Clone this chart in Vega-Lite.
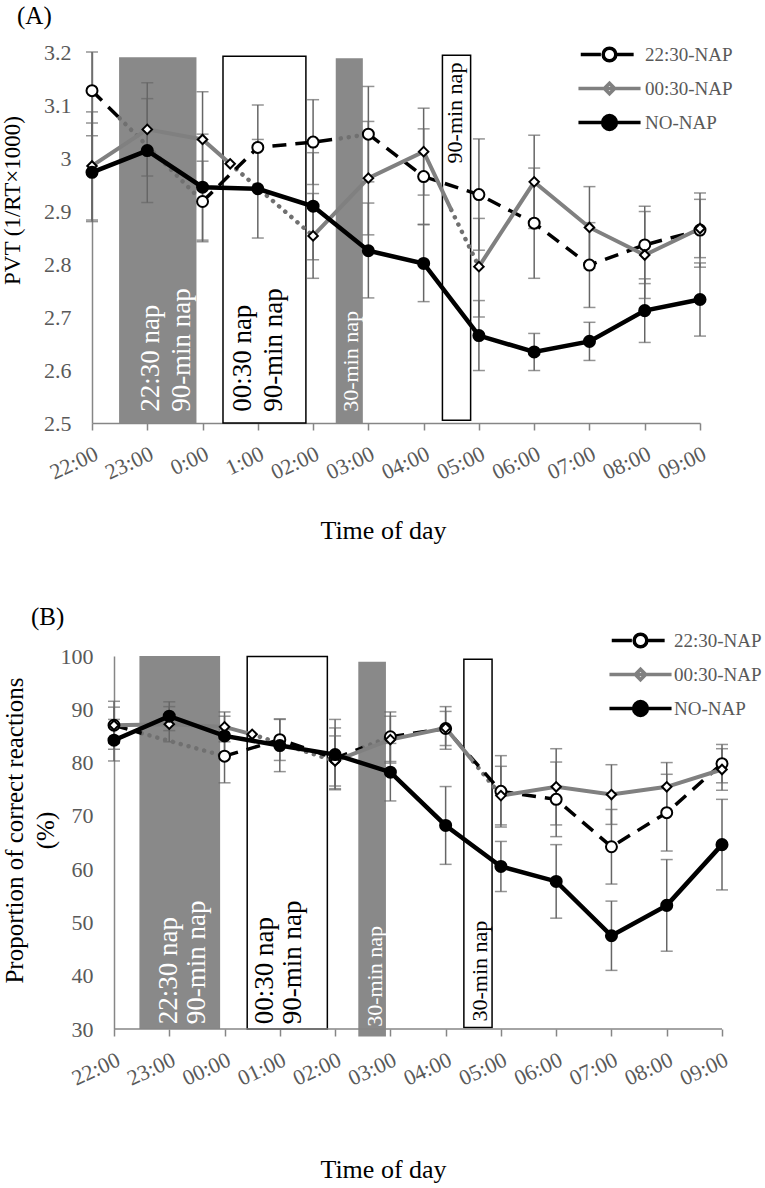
{
  "$schema": "https://vega.github.io/schema/vega-lite/v6.json",
  "background": "white",
  "padding": {"left": 1, "top": 4, "right": 5, "bottom": 5},
  "config": {"view": {"stroke": null}, "font": "Liberation Serif"},
  "spacing": 62,
  "resolve": {"scale": {"shape": "independent", "fill": "independent", "stroke": "independent"}},
  "datasets": {
    "ptsA": [
      {"s": "22:30-NAP", "h": 0, "v": 3.127, "lo": 3.042, "hi": 3.2},
      {"s": "22:30-NAP", "h": 2, "v": 2.918, "lo": 2.842, "hi": 2.994},
      {"s": "22:30-NAP", "h": 3, "v": 3.020, "lo": 2.940, "hi": 3.100},
      {"s": "22:30-NAP", "h": 4, "v": 3.030, "lo": 2.950, "hi": 3.110},
      {"s": "22:30-NAP", "h": 5, "v": 3.045, "lo": 2.955, "hi": 3.135},
      {"s": "22:30-NAP", "h": 6, "v": 2.965, "lo": 2.875, "hi": 3.055},
      {"s": "22:30-NAP", "h": 7, "v": 2.931, "lo": 2.826, "hi": 3.036},
      {"s": "22:30-NAP", "h": 8, "v": 2.877, "lo": 2.773, "hi": 2.981},
      {"s": "22:30-NAP", "h": 9, "v": 2.798, "lo": 2.718, "hi": 2.878},
      {"s": "22:30-NAP", "h": 10, "v": 2.836, "lo": 2.763, "hi": 2.909},
      {"s": "22:30-NAP", "h": 11, "v": 2.864, "lo": 2.794, "hi": 2.934},
      {"s": "00:30-NAP", "h": 0, "v": 2.985, "lo": 2.883, "hi": 3.087},
      {"s": "00:30-NAP", "h": 1, "v": 3.054, "lo": 2.966, "hi": 3.142},
      {"s": "00:30-NAP", "h": 2, "v": 3.035, "lo": 2.945, "hi": 3.125},
      {"s": "00:30-NAP", "h": 2.5, "v": 2.989, "lo": null, "hi": null},
      {"s": "00:30-NAP", "h": 4, "v": 2.853, "lo": 2.773, "hi": 2.933},
      {"s": "00:30-NAP", "h": 5, "v": 2.962, "lo": 2.855, "hi": 3.069},
      {"s": "00:30-NAP", "h": 6, "v": 3.012, "lo": 2.930, "hi": 3.094},
      {"s": "00:30-NAP", "h": 7, "v": 2.795, "lo": 2.700, "hi": 2.886},
      {"s": "00:30-NAP", "h": 8, "v": 2.955, "lo": 2.867, "hi": 3.043},
      {"s": "00:30-NAP", "h": 9, "v": 2.869, "lo": 2.792, "hi": 2.946},
      {"s": "00:30-NAP", "h": 10, "v": 2.817, "lo": 2.735, "hi": 2.899},
      {"s": "00:30-NAP", "h": 11, "v": 2.867, "lo": 2.812, "hi": 2.922},
      {"s": "NO-NAP", "h": 0, "v": 2.973, "lo": 2.880, "hi": 3.066},
      {"s": "NO-NAP", "h": 1, "v": 3.014, "lo": 2.916, "hi": 3.112},
      {"s": "NO-NAP", "h": 2, "v": 2.945, "lo": 2.845, "hi": 3.045},
      {"s": "NO-NAP", "h": 3, "v": 2.942, "lo": 2.849, "hi": 3.035},
      {"s": "NO-NAP", "h": 4, "v": 2.909, "lo": 2.808, "hi": 3.010},
      {"s": "NO-NAP", "h": 5, "v": 2.825, "lo": 2.736, "hi": 2.915},
      {"s": "NO-NAP", "h": 6, "v": 2.801, "lo": 2.729, "hi": 2.874},
      {"s": "NO-NAP", "h": 7, "v": 2.665, "lo": 2.599, "hi": 2.731},
      {"s": "NO-NAP", "h": 8, "v": 2.634, "lo": 2.599, "hi": 2.669},
      {"s": "NO-NAP", "h": 9, "v": 2.654, "lo": 2.618, "hi": 2.690},
      {"s": "NO-NAP", "h": 10, "v": 2.712, "lo": 2.652, "hi": 2.772},
      {"s": "NO-NAP", "h": 11, "v": 2.733, "lo": 2.664, "hi": 2.802}
    ],
    "linesA": [
      {"s": "22:30-NAP", "g": "a", "phase": "awake", "h": 0, "v": 3.127},
      {"s": "22:30-NAP", "g": "a", "phase": "awake", "h": 0.5, "v": 3.075},
      {"s": "22:30-NAP", "g": "b", "phase": "nap", "h": 0.5, "v": 3.075},
      {"s": "22:30-NAP", "g": "b", "phase": "nap", "h": 2, "v": 2.918},
      {"s": "22:30-NAP", "g": "c", "phase": "awake", "h": 2, "v": 2.918},
      {"s": "22:30-NAP", "g": "c", "phase": "awake", "h": 3, "v": 3.020},
      {"s": "22:30-NAP", "g": "c", "phase": "awake", "h": 4, "v": 3.030},
      {"s": "22:30-NAP", "g": "c", "phase": "awake", "h": 4.5, "v": 3.037},
      {"s": "22:30-NAP", "g": "d", "phase": "nap", "h": 4.5, "v": 3.037},
      {"s": "22:30-NAP", "g": "d", "phase": "nap", "h": 5, "v": 3.045},
      {"s": "22:30-NAP", "g": "e", "phase": "awake", "h": 5, "v": 3.045},
      {"s": "22:30-NAP", "g": "e", "phase": "awake", "h": 6, "v": 2.965},
      {"s": "22:30-NAP", "g": "e", "phase": "awake", "h": 7, "v": 2.931},
      {"s": "22:30-NAP", "g": "e", "phase": "awake", "h": 8, "v": 2.877},
      {"s": "22:30-NAP", "g": "e", "phase": "awake", "h": 9, "v": 2.798},
      {"s": "22:30-NAP", "g": "e", "phase": "awake", "h": 10, "v": 2.836},
      {"s": "22:30-NAP", "g": "e", "phase": "awake", "h": 11, "v": 2.864},
      {"s": "00:30-NAP", "g": "f", "phase": "awake", "h": 0, "v": 2.985},
      {"s": "00:30-NAP", "g": "f", "phase": "awake", "h": 1, "v": 3.054},
      {"s": "00:30-NAP", "g": "f", "phase": "awake", "h": 2, "v": 3.035},
      {"s": "00:30-NAP", "g": "f", "phase": "awake", "h": 2.5, "v": 2.989},
      {"s": "00:30-NAP", "g": "g", "phase": "nap", "h": 2.5, "v": 2.989},
      {"s": "00:30-NAP", "g": "g", "phase": "nap", "h": 4, "v": 2.853},
      {"s": "00:30-NAP", "g": "h", "phase": "awake", "h": 4, "v": 2.853},
      {"s": "00:30-NAP", "g": "h", "phase": "awake", "h": 5, "v": 2.962},
      {"s": "00:30-NAP", "g": "h", "phase": "awake", "h": 6, "v": 3.012},
      {"s": "00:30-NAP", "g": "h", "phase": "awake", "h": 6.5, "v": 2.902},
      {"s": "00:30-NAP", "g": "i", "phase": "nap", "h": 6.5, "v": 2.902},
      {"s": "00:30-NAP", "g": "i", "phase": "nap", "h": 7, "v": 2.795},
      {"s": "00:30-NAP", "g": "j", "phase": "awake", "h": 7, "v": 2.795},
      {"s": "00:30-NAP", "g": "j", "phase": "awake", "h": 8, "v": 2.955},
      {"s": "00:30-NAP", "g": "j", "phase": "awake", "h": 9, "v": 2.869},
      {"s": "00:30-NAP", "g": "j", "phase": "awake", "h": 10, "v": 2.817},
      {"s": "00:30-NAP", "g": "j", "phase": "awake", "h": 11, "v": 2.867}
    ],
    "bandsA": [
      {"k": "gray", "h0": 0.49, "h1": 1.89, "lo": 2.5, "hi": 3.19},
      {"k": "white", "h0": 2.37, "h1": 3.87, "lo": 2.5, "hi": 3.192},
      {"k": "gray", "h0": 4.41, "h1": 4.9, "lo": 2.5, "hi": 3.188},
      {"k": "white", "h0": 6.34, "h1": 6.85, "lo": 2.505, "hi": 3.194}
    ],
    "labsA": [
      {"k": "bigW", "h": 1.07, "v": 2.521, "t": "22:30 nap"},
      {"k": "bigW", "h": 1.63, "v": 2.521, "t": "90-min nap"},
      {"k": "bigB", "h": 2.73, "v": 2.521, "t": "00:30 nap"},
      {"k": "bigB", "h": 3.29, "v": 2.521, "t": "90-min nap"},
      {"k": "smW", "h": 4.68, "v": 2.521, "t": "30-min nap"},
      {"k": "smBtop", "h": 6.57, "v": 3.18, "t": "90-min nap"}
    ],
    "ptsB": [
      {"s": "22:30-NAP", "h": 0, "v": 87.0, "lo": 82.5, "hi": 91.5},
      {"s": "22:30-NAP", "h": 2, "v": 81.2, "lo": 76.2, "hi": 86.2},
      {"s": "22:30-NAP", "h": 3, "v": 84.3, "lo": 80.4, "hi": 88.2},
      {"s": "22:30-NAP", "h": 4, "v": 80.8, "lo": 75.1, "hi": 86.5},
      {"s": "22:30-NAP", "h": 5, "v": 84.85, "lo": 80.2, "hi": 89.5},
      {"s": "22:30-NAP", "h": 6, "v": 86.4, "lo": 83.2, "hi": 89.6},
      {"s": "22:30-NAP", "h": 7, "v": 74.6, "lo": 67.9, "hi": 81.3},
      {"s": "22:30-NAP", "h": 8, "v": 73.1, "lo": 66.1, "hi": 80.1},
      {"s": "22:30-NAP", "h": 9, "v": 64.2, "lo": 57.2, "hi": 71.2},
      {"s": "22:30-NAP", "h": 10, "v": 70.6, "lo": 63.4, "hi": 77.8},
      {"s": "22:30-NAP", "h": 11, "v": 79.8, "lo": 76.2, "hi": 83.4},
      {"s": "00:30-NAP", "h": 0, "v": 87.0, "lo": 83.6, "hi": 90.4},
      {"s": "00:30-NAP", "h": 1, "v": 87.2, "lo": 83.9, "hi": 90.5},
      {"s": "00:30-NAP", "h": 2, "v": 86.7, "lo": 83.9, "hi": 89.5},
      {"s": "00:30-NAP", "h": 2.5, "v": 85.3, "lo": null, "hi": null},
      {"s": "00:30-NAP", "h": 4, "v": 80.3, "lo": 75.6, "hi": 85.0},
      {"s": "00:30-NAP", "h": 5, "v": 84.3, "lo": 79.9, "hi": 88.7},
      {"s": "00:30-NAP", "h": 6, "v": 86.5, "lo": 82.5, "hi": 90.5},
      {"s": "00:30-NAP", "h": 7, "v": 73.8, "lo": 68.3, "hi": 79.3},
      {"s": "00:30-NAP", "h": 8, "v": 75.45, "lo": 68.3, "hi": 82.6},
      {"s": "00:30-NAP", "h": 9, "v": 74.0, "lo": 68.4, "hi": 79.6},
      {"s": "00:30-NAP", "h": 10, "v": 75.45, "lo": 70.9, "hi": 80.0},
      {"s": "00:30-NAP", "h": 11, "v": 78.7, "lo": 74.8, "hi": 82.6},
      {"s": "NO-NAP", "h": 0, "v": 84.2, "lo": 80.3, "hi": 88.1},
      {"s": "NO-NAP", "h": 1, "v": 88.7, "lo": 86.0, "hi": 91.4},
      {"s": "NO-NAP", "h": 2, "v": 85.0, "lo": 81.3, "hi": 88.7},
      {"s": "NO-NAP", "h": 3, "v": 83.2, "lo": 78.3, "hi": 88.1},
      {"s": "NO-NAP", "h": 4, "v": 81.5, "lo": 74.9, "hi": 88.1},
      {"s": "NO-NAP", "h": 5, "v": 78.2, "lo": 72.8, "hi": 83.6},
      {"s": "NO-NAP", "h": 6, "v": 68.2, "lo": 60.9, "hi": 75.5},
      {"s": "NO-NAP", "h": 7, "v": 60.5, "lo": 55.8, "hi": 65.2},
      {"s": "NO-NAP", "h": 8, "v": 57.7, "lo": 50.8, "hi": 64.6},
      {"s": "NO-NAP", "h": 9, "v": 47.5, "lo": 41.0, "hi": 54.0},
      {"s": "NO-NAP", "h": 10, "v": 53.2, "lo": 44.6, "hi": 61.8},
      {"s": "NO-NAP", "h": 11, "v": 64.6, "lo": 56.1, "hi": 73.1}
    ],
    "linesB": [
      {"s": "22:30-NAP", "g": "a", "phase": "awake", "h": 0, "v": 87.0},
      {"s": "22:30-NAP", "g": "a", "phase": "awake", "h": 0.5, "v": 85.5},
      {"s": "22:30-NAP", "g": "b", "phase": "nap", "h": 0.5, "v": 85.5},
      {"s": "22:30-NAP", "g": "b", "phase": "nap", "h": 2, "v": 81.2},
      {"s": "22:30-NAP", "g": "c", "phase": "awake", "h": 2, "v": 81.2},
      {"s": "22:30-NAP", "g": "c", "phase": "awake", "h": 3, "v": 84.3},
      {"s": "22:30-NAP", "g": "c", "phase": "awake", "h": 4, "v": 80.8},
      {"s": "22:30-NAP", "g": "c", "phase": "awake", "h": 4.5, "v": 82.8},
      {"s": "22:30-NAP", "g": "d", "phase": "nap", "h": 4.5, "v": 82.8},
      {"s": "22:30-NAP", "g": "d", "phase": "nap", "h": 5, "v": 84.85},
      {"s": "22:30-NAP", "g": "e", "phase": "awake", "h": 5, "v": 84.85},
      {"s": "22:30-NAP", "g": "e", "phase": "awake", "h": 6, "v": 86.4},
      {"s": "22:30-NAP", "g": "e", "phase": "awake", "h": 7, "v": 74.6},
      {"s": "22:30-NAP", "g": "e", "phase": "awake", "h": 8, "v": 73.1},
      {"s": "22:30-NAP", "g": "e", "phase": "awake", "h": 9, "v": 64.2},
      {"s": "22:30-NAP", "g": "e", "phase": "awake", "h": 10, "v": 70.6},
      {"s": "22:30-NAP", "g": "e", "phase": "awake", "h": 11, "v": 79.8},
      {"s": "00:30-NAP", "g": "f", "phase": "awake", "h": 0, "v": 87.0},
      {"s": "00:30-NAP", "g": "f", "phase": "awake", "h": 1, "v": 87.2},
      {"s": "00:30-NAP", "g": "f", "phase": "awake", "h": 2, "v": 86.7},
      {"s": "00:30-NAP", "g": "f", "phase": "awake", "h": 2.5, "v": 85.3},
      {"s": "00:30-NAP", "g": "g", "phase": "nap", "h": 2.5, "v": 85.3},
      {"s": "00:30-NAP", "g": "g", "phase": "nap", "h": 4, "v": 80.3},
      {"s": "00:30-NAP", "g": "h", "phase": "awake", "h": 4, "v": 80.3},
      {"s": "00:30-NAP", "g": "h", "phase": "awake", "h": 5, "v": 84.3},
      {"s": "00:30-NAP", "g": "h", "phase": "awake", "h": 6, "v": 86.5},
      {"s": "00:30-NAP", "g": "h", "phase": "awake", "h": 6.5, "v": 80.2},
      {"s": "00:30-NAP", "g": "i", "phase": "nap", "h": 6.5, "v": 80.2},
      {"s": "00:30-NAP", "g": "i", "phase": "nap", "h": 7, "v": 73.8},
      {"s": "00:30-NAP", "g": "j", "phase": "awake", "h": 7, "v": 73.8},
      {"s": "00:30-NAP", "g": "j", "phase": "awake", "h": 8, "v": 75.45},
      {"s": "00:30-NAP", "g": "j", "phase": "awake", "h": 9, "v": 74.0},
      {"s": "00:30-NAP", "g": "j", "phase": "awake", "h": 10, "v": 75.45},
      {"s": "00:30-NAP", "g": "j", "phase": "awake", "h": 11, "v": 78.7}
    ],
    "bandsB": [
      {"k": "gray", "h0": 0.46, "h1": 1.92, "lo": 30, "hi": 100},
      {"k": "white", "h0": 2.41, "h1": 3.86, "lo": 30, "hi": 99.9},
      {"k": "gray", "h0": 4.42, "h1": 4.92, "lo": 28.6, "hi": 98.9},
      {"k": "white", "h0": 6.33, "h1": 6.84, "lo": 30.3, "hi": 99.4}
    ],
    "labsB": [
      {"k": "bigW", "h": 0.995, "v": 30.9, "t": "22:30 nap"},
      {"k": "bigW", "h": 1.5, "v": 30.9, "t": "90-min nap"},
      {"k": "bigB", "h": 2.73, "v": 30.9, "t": "00:30 nap"},
      {"k": "bigB", "h": 3.24, "v": 30.9, "t": "90-min nap"},
      {"k": "smW", "h": 4.72, "v": 30.4, "t": "30-min nap"},
      {"k": "smB", "h": 6.62, "v": 31.4, "t": "30-min nap"}
    ],
    "axisB": [
      {"h0": 0, "h1": 11, "v": 30}
    ]
  },
  "vconcat": [
    {
      "width": 608,
      "height": 371,
      "title": {"text": "(A)", "anchor": "start", "frame": "bounds", "fontSize": 25, "fontWeight": "normal", "font": "Liberation Serif", "color": "black", "offset": 12, "dx": 16},
      "encoding": {
        "x": {"field": "h", "type": "quantitative", "scale": {"domain": [0, 11], "nice": false, "zero": false},
          "axis": {"values": [0, 1, 2, 3, 4, 5, 6, 7, 8, 9, 10, 11], "labelExpr": "['22:00','23:00','0:00','1:00','02:00','03:00','04:00','05:00','06:00','07:00','08:00','09:00'][datum.value]", "labelAngle": -25, "labelAlign": "right", "labelBaseline": "top", "labelFont": "Liberation Serif", "labelFontSize": 22, "labelColor": "#595959", "labelPadding": 13, "labelFlush": false, "labelOverlap": false, "labelBound": false, "tickColor": "#868686", "tickSize": 7, "tickWidth": 1.5, "domainColor": "#868686", "domainWidth": 1.5, "grid": false, "title": "Time of day", "titleFont": "Liberation Serif", "titleFontSize": 26, "titleFontWeight": "normal", "titleColor": "black", "titleX": 291, "titleY": 107, "titleBaseline": "middle", "titleAlign": "center"}},
        "y": {"field": "v", "type": "quantitative", "scale": {"domain": [2.5, 3.2], "nice": false, "zero": false},
          "axis": {"values": [2.5, 2.6, 2.7, 2.8, 2.9, 3, 3.1, 3.2], "format": "~g", "labelFont": "Liberation Serif", "labelFontSize": 22, "labelColor": "#595959", "labelPadding": 21, "ticks": false, "tickSize": 0, "domainColor": "#868686", "domainWidth": 1.5, "grid": false, "title": "PVT (1/RT×1000)", "titleFont": "Liberation Serif", "titleFontSize": 23, "titleFontWeight": "normal", "titleColor": "black", "titleX": -80, "titleY": 148, "titleBaseline": "middle", "titleAlign": "center"}}
      },
      "layer": [
        {
          "data": {"name": "bandsA"},
          "transform": [{"filter": "datum.k == 'gray'"}],
          "mark": {"type": "rect", "fill": "#898989"},
          "encoding": {
            "x": {"field": "h0", "type": "quantitative", "title": "Time of day"},
            "x2": {"field": "h1"},
            "y": {"field": "lo", "type": "quantitative", "title": "PVT (1/RT×1000)"},
            "y2": {"field": "hi"}
          }
        },
        {
          "data": {"name": "bandsA"},
          "transform": [{"filter": "datum.k == 'white'"}],
          "mark": {"type": "rect", "fill": "white", "stroke": "black", "strokeWidth": 1.5},
          "encoding": {
            "x": {"field": "h0", "type": "quantitative", "title": "Time of day"},
            "x2": {"field": "h1"},
            "y": {"field": "lo", "type": "quantitative", "title": "PVT (1/RT×1000)"},
            "y2": {"field": "hi"}
          }
        },
        {
          "data": {"name": "labsA"},
          "transform": [{"filter": "datum.k == 'bigW'"}],
          "mark": {"type": "text", "angle": 270, "align": "left", "baseline": "middle", "font": "Liberation Serif", "fontSize": 27, "color": "white"},
          "encoding": {"text": {"field": "t"}}
        },
        {
          "data": {"name": "labsA"},
          "transform": [{"filter": "datum.k == 'bigB'"}],
          "mark": {"type": "text", "angle": 270, "align": "left", "baseline": "middle", "font": "Liberation Serif", "fontSize": 27, "color": "black"},
          "encoding": {"text": {"field": "t"}}
        },
        {
          "data": {"name": "labsA"},
          "transform": [{"filter": "datum.k == 'smW'"}],
          "mark": {"type": "text", "angle": 270, "align": "left", "baseline": "middle", "font": "Liberation Serif", "fontSize": 22, "color": "white"},
          "encoding": {"text": {"field": "t"}}
        },
        {
          "data": {"name": "labsA"},
          "transform": [{"filter": "datum.k == 'smBtop'"}],
          "mark": {"type": "text", "angle": 270, "align": "right", "baseline": "middle", "font": "Liberation Serif", "fontSize": 22, "color": "black"},
          "encoding": {"text": {"field": "t"}}
        },
        {
          "data": {"name": "ptsA"},
          "transform": [{"filter": "isValid(datum.lo)"}],
          "mark": {"type": "errorbar", "color": "#666666", "thickness": 1.5, "ticks": {"size": 12, "thickness": 1.5, "color": "#666666"}},
          "encoding": {
            "y": {"field": "lo", "type": "quantitative", "title": "PVT (1/RT×1000)"},
            "y2": {"field": "hi"}
          }
        },
        {
          "data": {"name": "linesA"},
          "transform": [{"filter": "datum.phase == 'nap'"}],
          "mark": {"type": "line", "color": "#707070", "strokeWidth": 4.5, "strokeDash": [0.1, 8], "strokeCap": "round"},
          "encoding": {"detail": {"field": "g"}}
        },
        {
          "data": {"name": "linesA"},
          "transform": [{"filter": "datum.phase == 'awake' && datum.s == '22:30-NAP'"}],
          "mark": {"type": "line", "color": "black", "strokeWidth": 3.5, "strokeDash": [14, 9]},
          "encoding": {"detail": {"field": "g"}}
        },
        {
          "data": {"name": "linesA"},
          "transform": [{"filter": "datum.phase == 'awake' && datum.s == '00:30-NAP'"}],
          "mark": {"type": "line", "color": "#808080", "strokeWidth": 4},
          "encoding": {"detail": {"field": "g"}}
        },
        {
          "data": {"name": "ptsA"},
          "transform": [{"filter": "datum.s == 'NO-NAP'"}],
          "mark": {"type": "line", "color": "black", "strokeWidth": 4.5}
        },
        {
          "data": {"name": "ptsA"},
          "transform": [{"filter": "datum.s == '22:30-NAP'"}],
          "mark": {"type": "point", "shape": "circle", "filled": true, "fill": "white", "stroke": "black", "strokeWidth": 2, "size": 120, "opacity": 1}
        },
        {
          "data": {"name": "ptsA"},
          "transform": [{"filter": "datum.s == '00:30-NAP'"}],
          "mark": {"type": "point", "shape": "diamond", "filled": true, "fill": "white", "stroke": "black", "strokeWidth": 2, "size": 90, "opacity": 1}
        },
        {
          "data": {"name": "ptsA"},
          "transform": [{"filter": "datum.s == 'NO-NAP'"}],
          "mark": {"type": "point", "shape": "circle", "filled": true, "fill": "black", "strokeWidth": 0, "size": 170, "opacity": 1}
        },
        {
          "data": {"name": "ptsA"},
          "transform": [{"filter": "datum.h > 100"}],
          "mark": {"type": "point", "opacity": 1},
          "encoding": {
            "shape": {"field": "s", "type": "nominal", "scale": {"domain": ["22:30-NAP", "00:30-NAP", "NO-NAP"], "range": ["M-2.5,0L-0.75,0M-0.55,0A0.55,0.55,0,1,1,0.55,0A0.55,0.55,0,1,1,-0.55,0M0.55,0L2.1,0", "M-2.7,0L2.7,0M0,-0.45L0.45,0L0,0.45L-0.45,0Z", "M-2.7,0L2.7,0M-0.6,0A0.6,0.6,0,1,1,0.6,0A0.6,0.6,0,1,1,-0.6,0"]},
              "legend": {"orient": "none", "legendX": 504, "legendY": -11, "title": null, "padding": 0, "labelFont": "Liberation Serif", "labelFontSize": 19, "labelColor": "#595959", "labelLimit": 200, "symbolSize": 529, "symbolStrokeWidth": 3.5, "symbolOpacity": 1, "rowPadding": 7, "labelOffset": 22}},
            "fill": {"field": "s", "type": "nominal", "scale": {"domain": ["22:30-NAP", "00:30-NAP", "NO-NAP"], "range": ["white", "white", "black"]}},
            "stroke": {"field": "s", "type": "nominal", "scale": {"domain": ["22:30-NAP", "00:30-NAP", "NO-NAP"], "range": ["black", "#808080", "black"]}}
          }
        }
      ]
    },
    {
      "width": 630,
      "height": 373,
      "title": {"text": "(B)", "anchor": "start", "frame": "bounds", "fontSize": 25, "fontWeight": "normal", "font": "Liberation Serif", "color": "black", "offset": 0, "dx": 29, "dy": 3},
      "encoding": {
        "x": {"field": "h", "type": "quantitative", "scale": {"domain": [-0.3978, 11], "nice": false, "zero": false},
          "axis": {"values": [0, 1, 2, 3, 4, 5, 6, 7, 8, 9, 10, 11], "labelExpr": "['22:00','23:00','00:00','01:00','02:00','03:00','04:00','05:00','06:00','07:00','08:00','09:00'][datum.value]", "labelAngle": -25, "labelAlign": "right", "labelBaseline": "top", "labelFont": "Liberation Serif", "labelFontSize": 22, "labelColor": "#595959", "labelPadding": 13, "labelFlush": false, "labelOverlap": false, "labelBound": false, "tickColor": "#868686", "tickSize": 7, "tickWidth": 1.5, "domain": false, "grid": false, "title": "Time of day", "titleFont": "Liberation Serif", "titleFontSize": 26, "titleFontWeight": "normal", "titleColor": "black", "titleX": 291, "titleY": 140, "titleBaseline": "middle", "titleAlign": "center"}},
        "y": {"field": "v", "type": "quantitative", "scale": {"domain": [30, 100], "nice": false, "zero": false},
          "axis": {"values": [30, 40, 50, 60, 70, 80, 90, 100], "offset": -22, "labelFont": "Liberation Serif", "labelFontSize": 22, "labelColor": "#595959", "labelPadding": 21, "ticks": false, "tickSize": 0, "domainColor": "#868686", "domainWidth": 1.5, "grid": false, "title": ["Proportion of correct reactions", "(%)"], "titleFont": "Liberation Serif", "titleFontSize": 25, "titleFontWeight": "normal", "titleColor": "black", "titleX": -100, "titleY": 174, "titleBaseline": "middle", "titleAlign": "center", "titleLineHeight": 31}}
      },
      "layer": [
        {
          "data": {"name": "bandsB"},
          "transform": [{"filter": "datum.k == 'gray'"}],
          "mark": {"type": "rect", "fill": "#898989"},
          "encoding": {
            "x": {"field": "h0", "type": "quantitative", "title": "Time of day"},
            "x2": {"field": "h1"},
            "y": {"field": "lo", "type": "quantitative", "title": ["Proportion of correct reactions", "(%)"]},
            "y2": {"field": "hi"}
          }
        },
        {
          "data": {"name": "bandsB"},
          "transform": [{"filter": "datum.k == 'white'"}],
          "mark": {"type": "rect", "fill": "white", "stroke": "black", "strokeWidth": 1.5},
          "encoding": {
            "x": {"field": "h0", "type": "quantitative", "title": "Time of day"},
            "x2": {"field": "h1"},
            "y": {"field": "lo", "type": "quantitative", "title": ["Proportion of correct reactions", "(%)"]},
            "y2": {"field": "hi"}
          }
        },
        {
          "data": {"name": "axisB"},
          "mark": {"type": "rule", "color": "#868686", "strokeWidth": 1.5},
          "encoding": {
            "x": {"field": "h0", "type": "quantitative", "title": "Time of day"},
            "x2": {"field": "h1"},
            "y": {"field": "v", "type": "quantitative", "title": ["Proportion of correct reactions", "(%)"]}
          }
        },
        {
          "data": {"name": "labsB"},
          "transform": [{"filter": "datum.k == 'bigW'"}],
          "mark": {"type": "text", "angle": 270, "align": "left", "baseline": "middle", "font": "Liberation Serif", "fontSize": 27, "color": "white"},
          "encoding": {"text": {"field": "t"}}
        },
        {
          "data": {"name": "labsB"},
          "transform": [{"filter": "datum.k == 'bigB'"}],
          "mark": {"type": "text", "angle": 270, "align": "left", "baseline": "middle", "font": "Liberation Serif", "fontSize": 27, "color": "black"},
          "encoding": {"text": {"field": "t"}}
        },
        {
          "data": {"name": "labsB"},
          "transform": [{"filter": "datum.k == 'smW'"}],
          "mark": {"type": "text", "angle": 270, "align": "left", "baseline": "middle", "font": "Liberation Serif", "fontSize": 22, "color": "white"},
          "encoding": {"text": {"field": "t"}}
        },
        {
          "data": {"name": "labsB"},
          "transform": [{"filter": "datum.k == 'smB'"}],
          "mark": {"type": "text", "angle": 270, "align": "left", "baseline": "middle", "font": "Liberation Serif", "fontSize": 22, "color": "black"},
          "encoding": {"text": {"field": "t"}}
        },
        {
          "data": {"name": "ptsB"},
          "transform": [{"filter": "isValid(datum.lo)"}],
          "mark": {"type": "errorbar", "color": "#666666", "thickness": 1.5, "ticks": {"size": 12, "thickness": 1.5, "color": "#666666"}},
          "encoding": {
            "y": {"field": "lo", "type": "quantitative", "title": ["Proportion of correct reactions", "(%)"]},
            "y2": {"field": "hi"}
          }
        },
        {
          "data": {"name": "linesB"},
          "transform": [{"filter": "datum.phase == 'nap'"}],
          "mark": {"type": "line", "color": "#707070", "strokeWidth": 4.5, "strokeDash": [0.1, 8], "strokeCap": "round"},
          "encoding": {"detail": {"field": "g"}}
        },
        {
          "data": {"name": "linesB"},
          "transform": [{"filter": "datum.phase == 'awake' && datum.s == '22:30-NAP'"}],
          "mark": {"type": "line", "color": "black", "strokeWidth": 3.5, "strokeDash": [14, 9]},
          "encoding": {"detail": {"field": "g"}}
        },
        {
          "data": {"name": "linesB"},
          "transform": [{"filter": "datum.phase == 'awake' && datum.s == '00:30-NAP'"}],
          "mark": {"type": "line", "color": "#808080", "strokeWidth": 4},
          "encoding": {"detail": {"field": "g"}}
        },
        {
          "data": {"name": "ptsB"},
          "transform": [{"filter": "datum.s == 'NO-NAP'"}],
          "mark": {"type": "line", "color": "black", "strokeWidth": 4.5}
        },
        {
          "data": {"name": "ptsB"},
          "transform": [{"filter": "datum.s == '22:30-NAP'"}],
          "mark": {"type": "point", "shape": "circle", "filled": true, "fill": "white", "stroke": "black", "strokeWidth": 2, "size": 120, "opacity": 1}
        },
        {
          "data": {"name": "ptsB"},
          "transform": [{"filter": "datum.s == '00:30-NAP'"}],
          "mark": {"type": "point", "shape": "diamond", "filled": true, "fill": "white", "stroke": "black", "strokeWidth": 2, "size": 90, "opacity": 1}
        },
        {
          "data": {"name": "ptsB"},
          "transform": [{"filter": "datum.s == 'NO-NAP'"}],
          "mark": {"type": "point", "shape": "circle", "filled": true, "fill": "black", "strokeWidth": 0, "size": 170, "opacity": 1}
        },
        {
          "data": {"name": "ptsB"},
          "transform": [{"filter": "datum.h > 100"}],
          "mark": {"type": "point", "opacity": 1},
          "encoding": {
            "shape": {"field": "s", "type": "nominal", "scale": {"domain": ["22:30-NAP", "00:30-NAP", "NO-NAP"], "range": ["M-2.5,0L-0.75,0M-0.55,0A0.55,0.55,0,1,1,0.55,0A0.55,0.55,0,1,1,-0.55,0M0.55,0L2.1,0", "M-2.7,0L2.7,0M0,-0.45L0.45,0L0,0.45L-0.45,0Z", "M-2.7,0L2.7,0M-0.6,0A0.6,0.6,0,1,1,0.6,0A0.6,0.6,0,1,1,-0.6,0"]},
              "legend": {"orient": "none", "legendX": 535, "legendY": -29, "title": null, "padding": 0, "labelFont": "Liberation Serif", "labelFontSize": 19, "labelColor": "#595959", "labelLimit": 200, "symbolSize": 529, "symbolStrokeWidth": 3.5, "symbolOpacity": 1, "rowPadding": 7, "labelOffset": 20}},
            "fill": {"field": "s", "type": "nominal", "scale": {"domain": ["22:30-NAP", "00:30-NAP", "NO-NAP"], "range": ["white", "white", "black"]}},
            "stroke": {"field": "s", "type": "nominal", "scale": {"domain": ["22:30-NAP", "00:30-NAP", "NO-NAP"], "range": ["black", "#808080", "black"]}}
          }
        }
      ]
    }
  ]
}
